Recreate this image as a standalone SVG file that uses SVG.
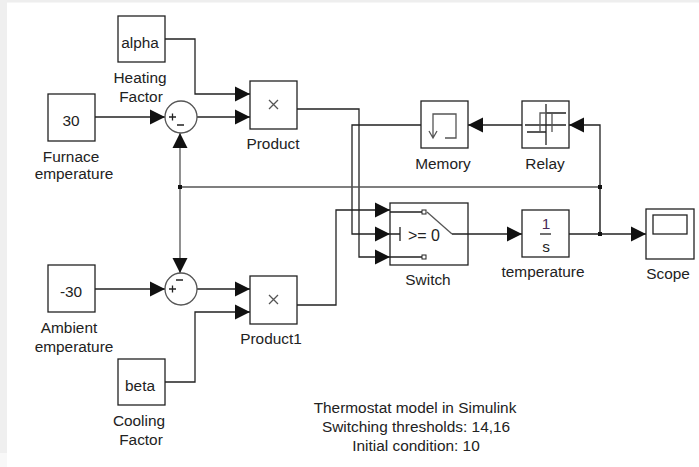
<svg xmlns="http://www.w3.org/2000/svg" width="699" height="467" viewBox="0 0 699 467">
<style>
text{font-family:"Liberation Sans",Arial,sans-serif;font-size:15.400px;fill:#222;text-anchor:middle}
.b{fill:#fff;stroke:#222;stroke-width:1.3}
.c{fill:none;stroke:#222;stroke-width:1.3}
.g{fill:none;stroke:#555;stroke-width:1.3}
</style>
<defs>
<marker id="a" markerUnits="userSpaceOnUse" markerWidth="16" markerHeight="16" refX="15" refY="8" orient="auto"><path d="M0 0.5L15 8L0 15.5Z" fill="#111"/></marker>
</defs>
<rect width="699" height="467" fill="#fff"/>
<rect width="699" height="2.500" fill="#eee"/>
<rect width="7" height="453" fill="#efefef"/>
<rect y="453" width="7" height="14" fill="#f8f8f8"/>
<g id="connectors">
<path class="c" d="M165 39H195V94H250" marker-end="url(#a)"/>
<path class="c" d="M95 117H165" marker-end="url(#a)"/>
<path class="c" d="M197 117H250" marker-end="url(#a)"/>
<path class="c" d="M95 289H165" marker-end="url(#a)"/>
<path class="c" d="M197 289H250" marker-end="url(#a)"/>
<path class="c" d="M165 382H195V312H250" marker-end="url(#a)"/>
<path class="c" d="M297 109H359V257H390" marker-end="url(#a)"/>
<path class="c" d="M297 305H336V210H390" marker-end="url(#a)"/>
<path class="c" d="M421 125H352V234H390" marker-end="url(#a)"/>
<path class="c" d="M522 125H468" marker-end="url(#a)"/>
<path class="c" d="M468 234H522" marker-end="url(#a)"/>
<path class="c" d="M569 234H646" marker-end="url(#a)"/>
<path class="c" d="M600 234V125H569" marker-end="url(#a)"/>
<path class="g" d="M180 187H600V234"/>
<path class="g" d="M180 187V133" marker-end="url(#a)"/>
<path class="g" d="M180 187V273" marker-end="url(#a)"/>
<rect x="178" y="185" width="4" height="4" fill="#111"/>
<rect x="598" y="185" width="4" height="4" fill="#111"/>
<rect x="598" y="232" width="4" height="4" fill="#111"/>
</g>
<g id="alpha"><rect class="b" x="118" y="16" width="47" height="46"/><text x="140" y="48">alpha</text><text x="140" y="83">Heating</text><text x="141" y="102">Factor</text></g>
<g id="furnace"><rect class="b" x="48" y="94" width="47" height="47"/><text x="71" y="126">30</text><text x="71" y="162">Furnace</text><text x="74" y="179">emperature</text></g>
<g id="sum1"><circle cx="181" cy="117" r="16" fill="#fff" stroke="#555" stroke-width="1.3"/><path class="c" d="M169 117h7M172.500 113.500v7M177 125h7"/></g>
<g id="product"><rect class="b" x="250" y="81" width="47" height="48"/><path d="M269 100l9 9M278 100l-9 9" class="g"/><text x="273" y="149">Product</text></g>
<g id="memory"><rect class="b" x="421" y="101" width="47" height="47"/><path class="g" d="M445 138h11V114H433V137M429 131l4 7 4-7"/><text x="443" y="169">Memory</text></g>
<g id="relay"><rect class="b" x="522" y="101" width="47" height="47"/><path class="c" d="M525 125h41M546 104v41M527 132h19V113h20"/><path class="g" d="M540 132V113h12V132"/><text x="545" y="169">Relay</text></g>
<g id="switch"><rect class="b" x="390" y="203" width="78" height="62"/><path class="c" d="M390 212H423M390 234H400M400 227V241M390 257H423M452 234H468"/><path class="g" d="M427 212L452 234"/><rect x="422" y="210" width="4" height="4" fill="#fff" stroke="#222"/><rect x="422" y="255" width="4" height="4" fill="#fff" stroke="#222"/><text x="424" y="241" style="font-size:16px">&gt;= 0</text><text x="428" y="285">Switch</text></g>
<g id="integrator"><rect class="b" x="522" y="210" width="47" height="47"/><path class="c" d="M540 234h11"/><text x="546" y="229" style="fill:#4a2a5a">1</text><text x="546" y="252">s</text><text x="543" y="277">temperature</text></g>
<g id="scope"><rect class="b" x="646" y="209" width="48" height="50"/><rect class="b" x="653" y="215" width="34" height="19"/><text x="668" y="279">Scope</text></g>
<g id="ambient"><rect class="b" x="48" y="265" width="47" height="47"/><text x="71" y="297">-30</text><text x="69" y="333">Ambient</text><text x="74" y="352">emperature</text></g>
<g id="sum2"><circle cx="181" cy="289" r="16" fill="#fff" stroke="#555" stroke-width="1.300"/><path class="c" d="M169 289h7M172.500 285.500v7M176 280h7"/></g>
<g id="product1"><rect class="b" x="250" y="276" width="47" height="48"/><path d="M269 295l9 9M278 295l-9 9" class="g"/><text x="271" y="344">Product1</text></g>
<g id="beta"><rect class="b" x="118" y="359" width="47" height="46"/><text x="140" y="391">beta</text><text x="139" y="426">Cooling</text><text x="141" y="445">Factor</text></g>
<g id="note"><text x="415" y="413">Thermostat model in Simulink</text><text x="416" y="432">Switching thresholds: 14,16</text><text x="416" y="451">Initial condition: 10</text></g>
</svg>
